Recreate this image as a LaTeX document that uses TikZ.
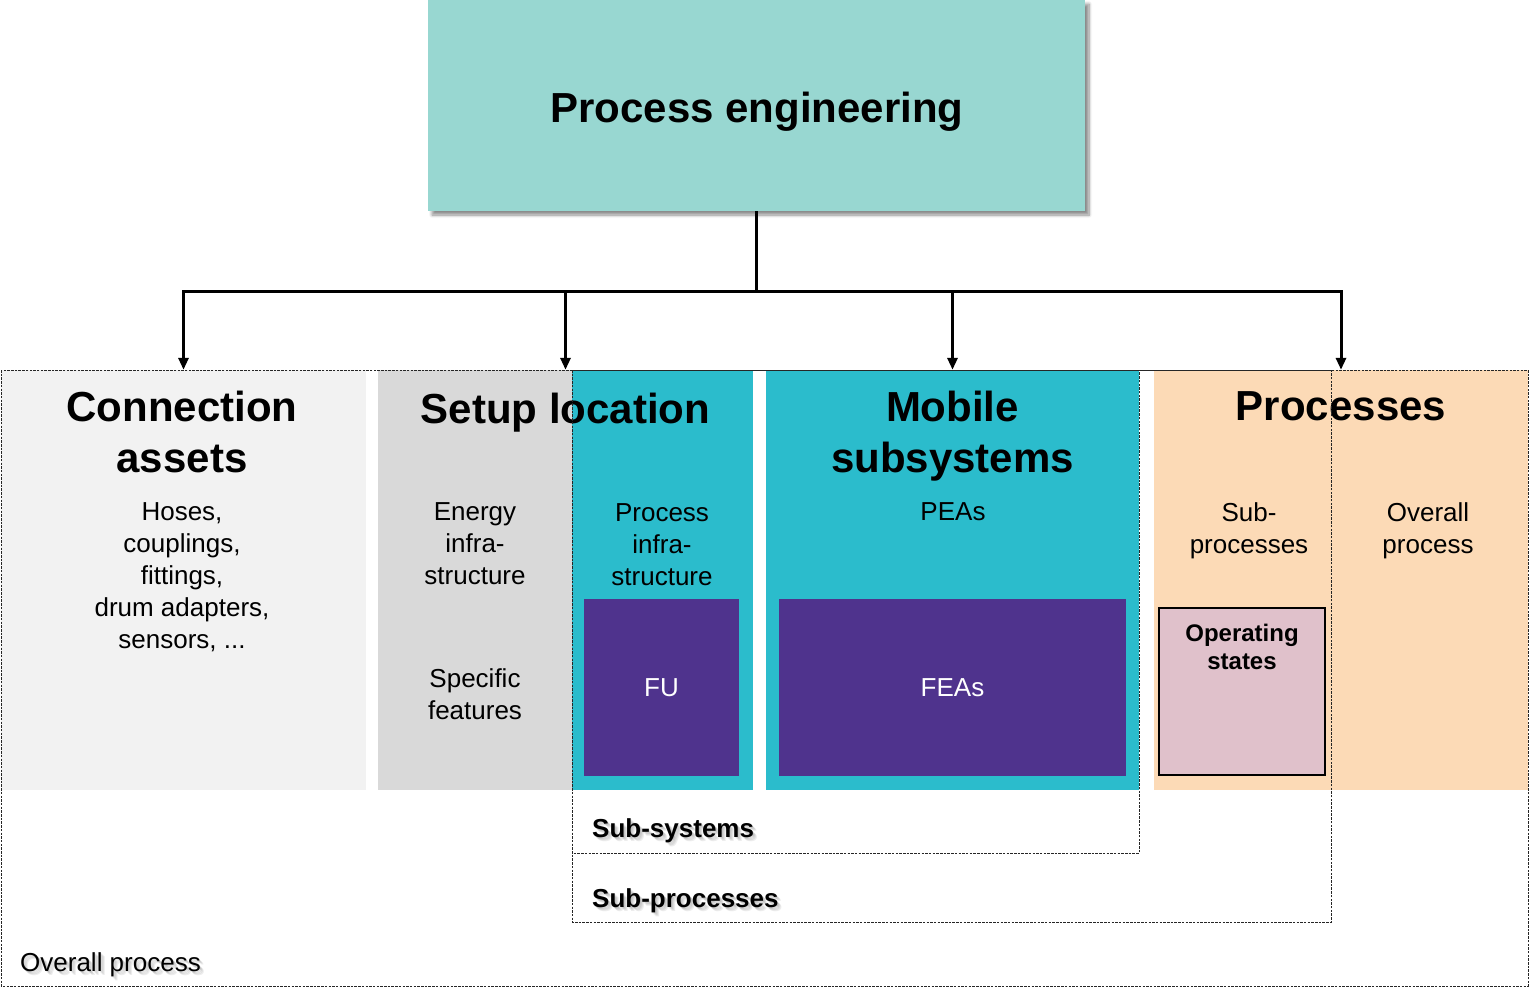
\documentclass[tikz,border=0pt]{standalone}
\usepackage{fontspec}
\setmainfont{Liberation Sans}
\usetikzlibrary{arrows.meta,shadows.blur}

\definecolor{pefill}{HTML}{98D7D1}
\definecolor{connfill}{HTML}{F2F2F2}
\definecolor{setupfill}{HTML}{D9D9D9}
\definecolor{tealfill}{HTML}{2BBCCC}
\definecolor{procfill}{HTML}{FCDAB6}
\definecolor{feafill}{HTML}{4F338D}
\definecolor{opfill}{HTML}{E0C1CB}

\begin{document}
\begin{tikzpicture}[x=1pt, y=-1pt, line join=miter,
  blockbox/.style={rectangle, inner sep=0pt, draw=none},
  headtext/.style={anchor=north, inner sep=0pt, align=center, font=\fontsize{42}{51}\selectfont\bfseries},
  bodytext/.style={anchor=north, inner sep=0pt, align=center, font=\fontsize{26}{32}\selectfont},
  tagtext/.style={anchor=base west, inner sep=0pt, font=\fontsize{26}{32}\selectfont},
  feed/.style={line width=3pt, -{Triangle[length=12pt,width=10pt]}},
  dashbox/.style={line width=0.8pt, dash pattern=on 2.5pt off 1.2pt, black!85}]

  %% ════ top block ════
  \node[blockbox, fill=pefill, minimum width=657pt, minimum height=211pt,
        blur shadow={shadow xshift=4pt, shadow yshift=-4pt, shadow blur radius=3pt,
                     shadow blur steps=8, shadow opacity=45}] (pe) at (756.5,105.5) {};
  \node[anchor=base, inner sep=0pt, font=\fontsize{42}{51}\selectfont\bfseries] (petitle) at (757,122) {Process engineering};

  %% ════ columns ════
  \node[blockbox, fill=connfill,  minimum width=365pt, minimum height=420pt] (conn)   at (183.5,580) {};
  \node[blockbox, fill=setupfill, minimum width=375pt, minimum height=420pt] (setup)  at (565.5,580) {};
  \node[blockbox, fill=tealfill,  minimum width=181pt, minimum height=420pt] (procinf) at (662.5,580) {};
  \node[blockbox, fill=tealfill,  minimum width=373pt, minimum height=420pt] (mobile) at (952.5,580) {};
  \node[blockbox, fill=procfill,  minimum width=374pt, minimum height=420pt] (procs)  at (1341,580) {};

  %% inner blocks
  \node[blockbox, fill=feafill, minimum width=155pt, minimum height=177pt, text=white,
        font=\fontsize{26}{32}\selectfont] (fu) at (661.5,687.5) {FU};
  \node[blockbox, fill=feafill, minimum width=347pt, minimum height=177pt, text=white,
        font=\fontsize{26}{32}\selectfont] (feas) at (952.5,687.5) {FEAs};
  \node[rectangle, inner sep=0pt, draw=black, line width=2.5pt, fill=opfill,
        minimum width=166pt, minimum height=167pt] (opstates) at (1242,691.5) {};
  \node[anchor=north, inner sep=0pt, align=center, font=\fontsize{24}{28}\selectfont\bfseries] (optext) at (1242,624) {Operating\\states};

  %% ════ column texts ════
  \node[headtext] (connhead)   at (182,391)  {Connection\\assets};
  \node[headtext] (setuphead)  at (565.5,393) {Setup location};
  \node[headtext] (mobilehead) at (952.5,391) {Mobile\\subsystems};
  \node[headtext] (procshead)  at (1341,391) {Processes};

  \node[bodytext] (connitems) at (182,502)  {Hoses,\\couplings,\\fittings,\\drum adapters,\\sensors, ...};
  \node[bodytext] (energy)    at (475,502)  {Energy\\infra-\\structure};
  \node[bodytext] (specific)  at (475,668)  {Specific\\features};
  \node[bodytext] (procinfra) at (662,503)  {Process\\infra-\\structure};
  \node[bodytext] (peas)      at (953,502)  {PEAs};
  \node[bodytext] (subprocs)  at (1249,502) {Sub-\\processes};
  \node[bodytext] (overall)   at (1428,502) {Overall\\process};

  %% ════ dashed scopes ════
  \draw[dashbox] (1,370) rectangle (1528,986);
  \draw[dashbox] (572,370) rectangle (1331,922);
  \draw[dashbox] (572,370) rectangle (1139,853);

  % scope labels, soft shadow drawn first
  \foreach \d in {2,3,4,5} {
    \node[tagtext, font=\fontsize{26}{32}\selectfont\bfseries, opacity=.07] at (591+\d,836+\d) {Sub-systems};
    \node[tagtext, font=\fontsize{26}{32}\selectfont\bfseries, opacity=.07] at (591+\d,906+\d) {Sub-processes};
    \node[tagtext, opacity=.07] at (19+\d,970+\d) {Overall process};
  }
  \node[tagtext, font=\fontsize{26}{32}\selectfont\bfseries] (subsystag) at (592,837) {Sub-systems};
  \node[tagtext, font=\fontsize{26}{32}\selectfont\bfseries] (subproctag) at (592,907) {Sub-processes};
  \node[tagtext] (overalltag) at (20,971) {Overall process};

  %% ════ connectors ════
  \coordinate (bus) at (756.5,291);
  \draw[line width=3pt] (pe.south) -- (bus);
  \draw[feed] (bus) -| (conn.north);
  \draw[feed] (bus) -| (setup.north);
  \draw[feed] (bus) -| (mobile.north);
  \draw[feed] (bus) -| (procs.north);

  \pgfresetboundingbox
  \path[use as bounding box] (0,0) rectangle (1529,990);
\end{tikzpicture}
\end{document}
